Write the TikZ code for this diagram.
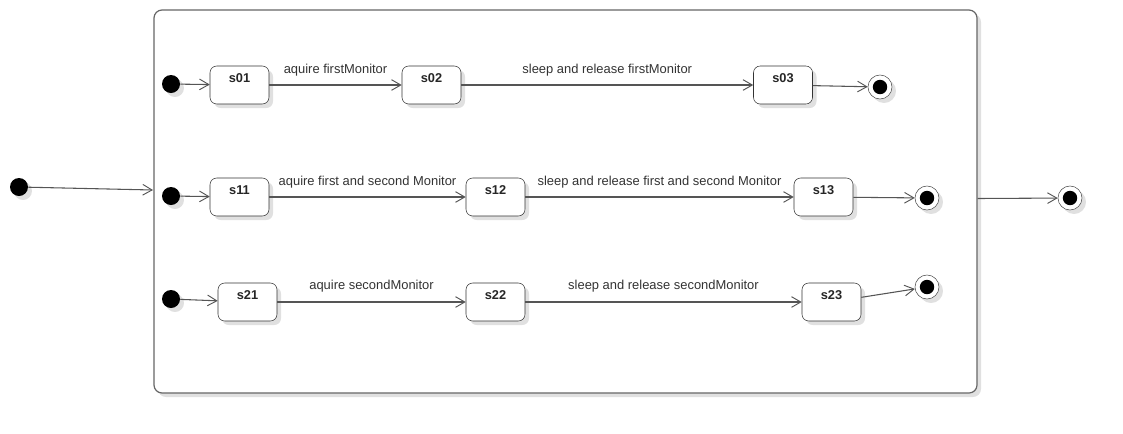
\documentclass[tikz,border=0pt]{standalone}
\usepackage{fontspec}
\setmainfont{Liberation Sans}
\usetikzlibrary{arrows.meta,shadows}
\definecolor{edge}{HTML}{555555}
\definecolor{txt}{HTML}{333333}
\tikzset{
  shd/.style={drop shadow={opacity=0.12,shadow xshift=3pt,shadow yshift=-3pt,fill=black}},
  statebox/.style={draw=black!80,fill=white,rounded corners=5pt,minimum width=44.25pt,minimum height=28.5pt,inner sep=0pt,shd},
  slbl/.style={anchor=center,yshift=-9.6pt,font=\fontsize{9.6}{11}\selectfont\bfseries,text=black!85},
  initdot/.style={circle,fill=black,minimum size=13.5pt,inner sep=0pt,shd},
  finaldot/.style={circle,draw=black!70,fill=white,minimum size=18pt,inner sep=0pt,shd,
     path picture={\fill[black] (path picture bounding box.center) circle (5.4pt);}},
  trans/.style={draw=edge,line width=0.8pt,-{Straight Barb[length=7pt,width=8pt,line width=0.7pt]}},
  tlbl/.style={midway,yshift=11.3pt,font=\fontsize{9.7}{11}\selectfont,text=txt,inner sep=0pt},
  container/.style={draw=black!60,line width=0.9pt,fill=white,rounded corners=6pt,minimum width=617.25pt,minimum height=287.25pt,inner sep=0pt,shd}
}
\begin{document}
\begin{tikzpicture}[x=0.75pt,y=-0.75pt]
\useasboundingbox (0,0) rectangle (1123,433);
\node[container] (cont) at (565.5,201.5) {};
% row 1
\node[initdot] (i0) at (171,84) {};
\node[statebox,label={[slbl]north:s01}] (s01) at (239.5,85) {};
\node[statebox,label={[slbl]north:s02}] (s02) at (431.5,85) {};
\node[statebox,label={[slbl]north:s03}] (s03) at (783,85) {};
\node[finaldot] (f0) at (880,87) {};
% row 2
\node[initdot] (i1) at (171,196) {};
\node[statebox,label={[slbl]north:s11}] (s11) at (239.5,197) {};
\node[statebox,label={[slbl]north:s12}] (s12) at (495.5,197) {};
\node[statebox,label={[slbl]north:s13}] (s13) at (823.5,197) {};
\node[finaldot] (f1) at (927,198) {};
% row 3
\node[initdot] (i2) at (171,299) {};
\node[statebox,label={[slbl]north:s21}] (s21) at (247.5,302) {};
\node[statebox,label={[slbl]north:s22}] (s22) at (495.5,302) {};
\node[statebox,label={[slbl]north:s23}] (s23) at (831.5,302) {};
\node[finaldot] (f2) at (927,287) {};
% outer
\node[initdot] (io) at (19,187) {};
\coordinate (cin) at (153,190);
\coordinate (cout) at (977.5,198.5);
\node[finaldot] (fo) at (1070,198) {};

\draw[trans] (i0) -- (s01);
\draw[trans] (s01) -- node[tlbl]{aquire firstMonitor} (s02);
\draw[trans] (s02) -- node[tlbl]{sleep and release firstMonitor} (s03);
\draw[trans] (s03) -- (f0);

\draw[trans] (i1) -- (s11);
\draw[trans] (s11) -- node[tlbl]{aquire first and second Monitor} (s12);
\draw[trans] (s12) -- node[tlbl]{sleep and release first and second Monitor} (s13);
\draw[trans] (s13) -- (f1);

\draw[trans] (i2) -- (s21);
\draw[trans] (s21) -- node[tlbl,yshift=0.8pt]{aquire secondMonitor} (s22);
\draw[trans] (s22) -- node[tlbl,yshift=0.8pt]{sleep and release secondMonitor} (s23);
\draw[trans] (s23) -- (f2);

\draw[trans] (io) -- (cin);
\draw[trans] (cout) -- (fo);
\end{tikzpicture}
\end{document}
